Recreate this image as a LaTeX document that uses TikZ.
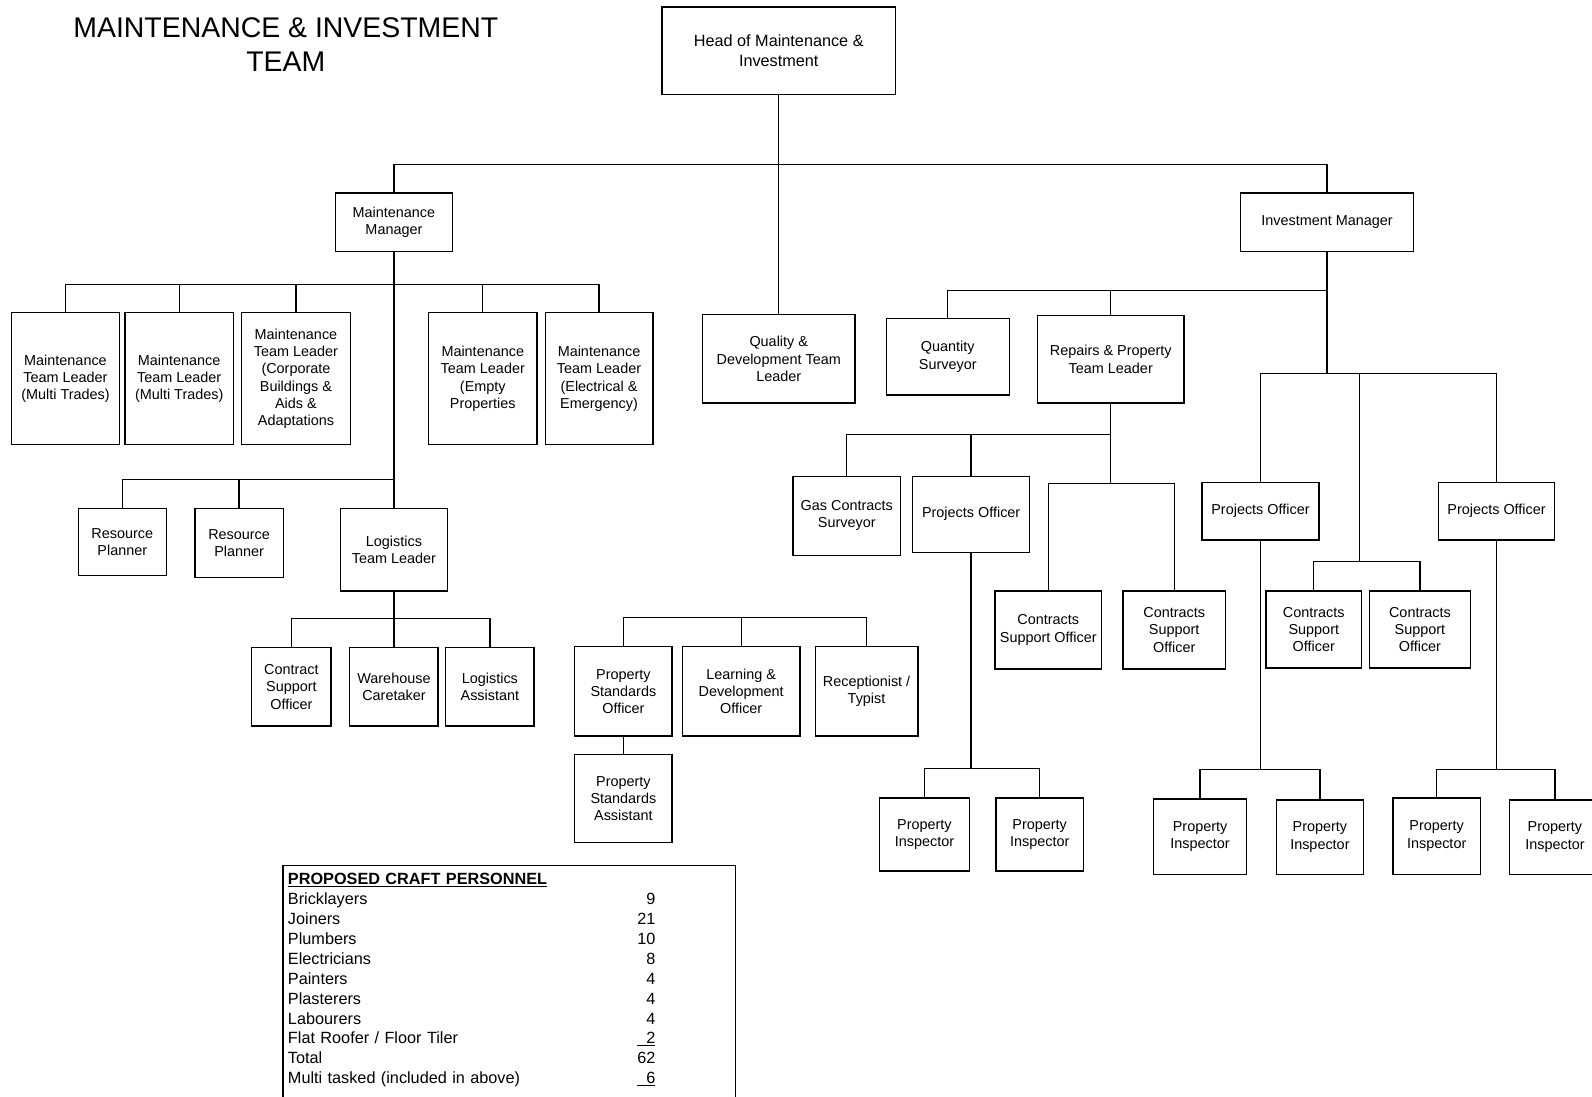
\documentclass[tikz,border=0pt]{standalone}
\usepackage{fontspec}
\setmainfont{Liberation Sans}
\usepackage{tikz}

\begin{document}
\begin{tikzpicture}[x=1pt,y=-1pt,box/.style={draw,line width=1.3pt,align=center,inner sep=2pt,font=\fontsize{14.2}{17}\selectfont},sz/.style 2 args={minimum width=#1pt,minimum height=#2pt},link/.style={draw,line width=1.3pt}]
\useasboundingbox (0,0) rectangle (1568,1080);
\node[align=center,font=\fontsize{28}{33}\selectfont] (title) at (281.5,44) {MAINTENANCE \& INVESTMENT\\TEAM};
\node[box,sz={230}{86},font=\fontsize{16}{19.5}\selectfont] (head) at (767,50) {Head of Maintenance \&\\Investment};
\node[box,sz={115}{58}] (mm) at (388,219) {Maintenance\\Manager};
\node[box,sz={170}{58}] (im) at (1307,219) {Investment Manager};
% maintenance
\node[box,sz={107}{130}] (tla) at (64.5,373) {Maintenance\\Team Leader\\(Multi Trades)};
\node[box,sz={107}{130}] (tlb) at (176.5,373) {Maintenance\\Team Leader\\(Multi Trades)};
\node[box,sz={107}{130}] (tlc) at (291.5,373) {Maintenance\\Team Leader\\(Corporate\\Buildings \&\\Aids \&\\Adaptations};
\node[box,sz={107}{130}] (tld) at (475.5,373) {Maintenance\\Team Leader\\(Empty\\Properties};
\node[box,sz={106}{130}] (tle) at (590,373) {Maintenance\\Team Leader\\(Electrical \&\\Emergency)};
\node[box,sz={87}{66}] (rpa) at (120.5,534) {Resource\\Planner};
\node[box,sz={87}{68}] (rpb) at (235.5,535) {Resource\\Planner};
\node[box,sz={105}{81}] (logtl) at (388,541.5) {Logistics\\Team Leader};
\node[box,sz={78}{77}] (cso) at (287,676.5) {Contract\\Support\\Officer};
\node[box,sz={87}{77}] (wc) at (388,676.5) {Warehouse\\Caretaker};
\node[box,sz={87}{77}] (la) at (482.5,676.5) {Logistics\\Assistant};
% quality
\node[box,sz={150}{87}] (qd) at (767,353.5) {Quality \&\\Development Team\\Leader};
\node[box,sz={96}{88}] (pso) at (614,681) {Property\\Standards\\Officer};
\node[box,sz={116}{88}] (ldo) at (730,681) {Learning \&\\Development\\Officer};
\node[box,sz={101}{88}] (rt) at (853.5,681) {Receptionist /\\Typist};
\node[box,sz={96}{87}] (psa) at (614,786.5) {Property\\Standards\\Assistant};
% investment
\node[box,sz={121}{75}] (qs) at (933.5,351.5) {Quantity\\Surveyor};
\node[box,sz={144}{86}] (rp) at (1094,354) {Repairs \& Property\\Team Leader};
\node[box,sz={106}{78}] (gcs) at (834,508) {Gas Contracts\\Surveyor};
\node[box,sz={115}{75}] (poa) at (956.5,506.5) {Projects Officer};
\node[box,sz={105}{77}] (csoa) at (1032.5,620.5) {Contracts\\Support Officer};
\node[box,sz={101}{77}] (csob) at (1156.5,620.5) {Contracts\\Support\\Officer};
\node[box,sz={89}{72}] (pia) at (910.5,822) {Property\\Inspector};
\node[box,sz={86}{72}] (pib) at (1024,822) {Property\\Inspector};
\node[box,sz={115}{57}] (pob) at (1241.5,503.5) {Projects Officer};
\node[box,sz={114}{57}] (poc) at (1474,503.5) {Projects Officer};
\node[box,sz={94}{76}] (csoc) at (1294,620) {Contracts\\Support\\Officer};
\node[box,sz={99}{76}] (csod) at (1398.5,620) {Contracts\\Support\\Officer};
\node[box,sz={92}{74}] (pic) at (1182,824) {Property\\Inspector};
\node[box,sz={86}{73}] (pid) at (1300,824.5) {Property\\Inspector};
\node[box,sz={86}{75}] (pie) at (1415,823.5) {Property\\Inspector};
\node[box,sz={89}{73}] (pif) at (1531.5,824.5) {Property\\Inspector};
% craft personnel
\node[draw,line width=1.3pt,anchor=north west,inner xsep=5pt,inner ysep=5pt,text width=436pt,align=left,font=\fontsize{16}{19.6}\selectfont] (craft) at (278,852) {%
\begin{tabular}[t]{@{}p{344pt}@{}r@{}}
\textbf{\underline{PROPOSED CRAFT PERSONNEL}} & \\
Bricklayers & 9\\
Joiners & 21\\
Plumbers & 10\\
Electricians & 8\\
Painters & 4\\
Plasterers & 4\\
Labourers & 4\\
Flat Roofer / Floor Tiler & \underline{\hphantom{0}2}\\
Total & 62\\
Multi tasked (included in above) & \underline{\hphantom{0}6}\\
\rule{0pt}{40pt} & \\
\end{tabular}};
% head
\coordinate (topbus) at (767,162);
\draw[link] (head) -- (qd);
\draw[link] (mm) |- (topbus) -| (im);
% maintenance manager
\coordinate (mmbus) at (388,280);
\draw[link] (tla) |- (mmbus) -| (tle);
\draw[link] (tlb) -- (tlb |- mmbus);
\draw[link] (tlc) -- (tlc |- mmbus);
\draw[link] (tld) -- (tld |- mmbus);
\draw[link] (mm) -- (logtl);
\coordinate (rpbus) at (388,472);
\draw[link] (rpa) |- (rpbus);
\draw[link] (rpb) -- (rpb |- rpbus);
\coordinate (logbus) at (388,609);
\draw[link] (logtl) -- (wc);
\draw[link] (cso) |- (logbus) -| (la);
% quality
\coordinate (qdbus) at (767,608);
\draw[link] (pso) |- (qdbus) -| (rt);
\draw[link] (ldo) -- (ldo |- qdbus);
\draw[link] (pso) -- (psa);
% investment manager
\coordinate (imbus) at (1307,286);
\coordinate (pobus) at (1307,368);
\draw[link] (im) -- (pobus);
\draw[link] (qs) |- (imbus);
\draw[link] (rp) -- (rp |- imbus);
\draw[link] (pob) |- (pobus) -| (poc);
\coordinate (csobus) at (1339,553);
\draw[link] (csobus |- pobus) -- (csobus);
\draw[link] (csoc) |- (csobus) -| (csod);
% repairs
\coordinate (repbus) at (1094,428);
\coordinate (cscbus) at (1094,476);
\draw[link] (rp) -- (cscbus);
\draw[link] (gcs) |- (repbus);
\draw[link] (poa) -- (poa |- repbus);
\draw[link] (csoa) |- (cscbus) -| (csob);
% inspectors
\coordinate (piabus) at (956.5,757);
\draw[link] (poa) -- (piabus);
\draw[link] (pia) |- (piabus) -| (pib);
\coordinate (picbus) at (1241.5,758);
\draw[link] (pob) -- (picbus);
\draw[link] (pic) |- (picbus) -| (pid);
\coordinate (piebus) at (1474,758);
\draw[link] (poc) -- (piebus);
\draw[link] (pie) |- (piebus) -| (pif);
\end{tikzpicture}
\end{document}
